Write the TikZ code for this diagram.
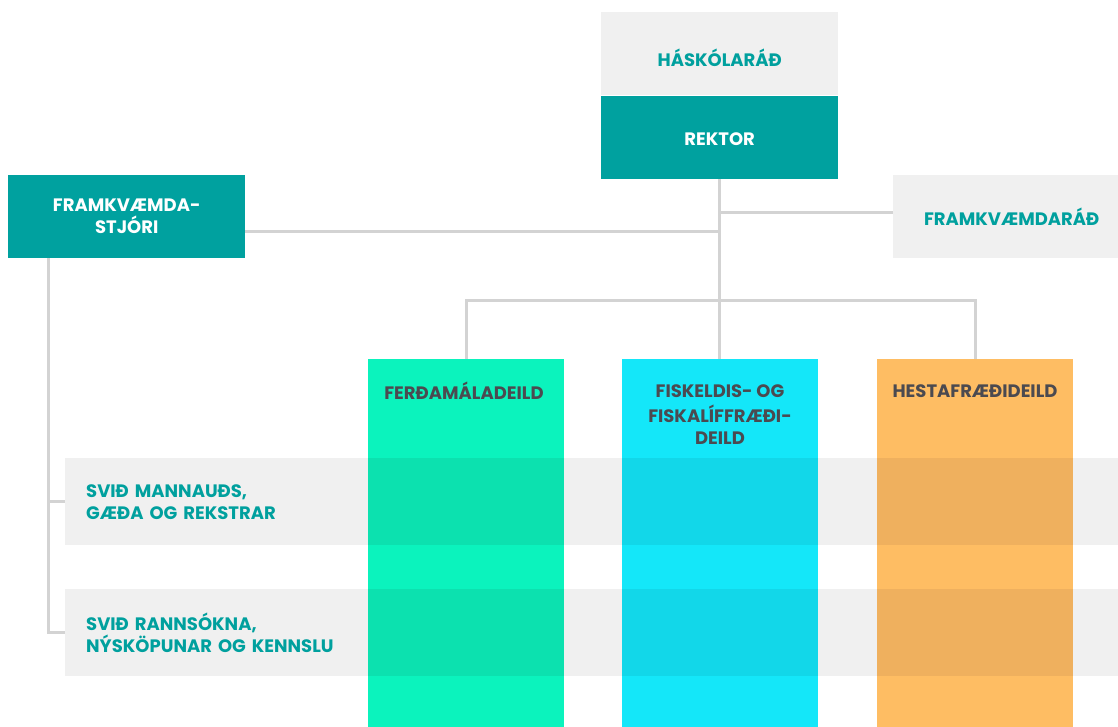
\documentclass[tikz,border=0pt]{standalone}
\usepackage{fontspec}
\setmainfont{Poppins}
\usetikzlibrary{positioning}
\definecolor{tealbox}{HTML}{00A19F}
\definecolor{tealtext}{HTML}{00A09E}
\definecolor{linegray}{HTML}{D3D3D3}
\definecolor{rowgray}{HTML}{F0F0F0}
\definecolor{textgray}{HTML}{4B4A50}
\definecolor{ferdagreen}{HTML}{0BF3BD}
\definecolor{ferdadark}{HTML}{0CE1AF}
\definecolor{fiskcyan}{HTML}{14E7F9}
\definecolor{fiskdark}{HTML}{12D7E9}
\definecolor{hestorange}{HTML}{FEBD63}
\definecolor{hestdark}{HTML}{EFB05E}

\begin{document}
\begin{tikzpicture}[x=1pt,y=-1pt,
    txt/.style={font=\bfseries\fontsize{18}{22}\selectfont},
    box/.style={txt,minimum width=237pt,minimum height=83pt,inner sep=0pt,align=center},
    lightbox/.style={box,fill=rowgray,text=tealtext},
    darkbox/.style={box,fill=tealbox,text=white},
    column/.style={minimum width=196pt,minimum height=370pt,inner sep=0pt,anchor=north},
    deild/.style={txt,text=textgray,align=center,inner sep=0pt,anchor=north},
    svid/.style={txt,fill=rowgray,text=tealtext,minimum height=87pt,text width=1040pt,
        inner xsep=21pt,inner ysep=0pt,align=left,anchor=north west},
    link/.style={draw=linegray,line width=3pt}]
    \useasboundingbox (0,0) rectangle (1118,727);

    \node[lightbox,anchor=north west,text height=26pt] (haskolarad) at (601,12) {HÁSKÓLARÁÐ};
    \node[darkbox,below=0pt of haskolarad,text height=17pt] (rektor) {REKTOR};
    \node[darkbox,anchor=north west] (framkv) at (8,175) {FRAMKVÆMDA-\\STJÓRI};
    \node[lightbox,anchor=north west] (framkvrad) at (893,175) {FRAMKVÆMDARÁÐ};

    \node[column,fill=ferdagreen] (ferda) at (466,359) {};
    \node[column,fill=fiskcyan] (fisk) at (720,359) {};
    \node[column,fill=hestorange] (hesta) at (975,359) {};

    \node[svid] (mannaud) at (65,458) {SVIÐ MANNAUÐS,\\GÆÐA OG REKSTRAR};
    \node[svid] (rannsokn) at (65,589) {SVIÐ RANNSÓKNA,\\NÝSKÖPUNAR OG KENNSLU};

    \foreach \c/\k in {ferda/ferdadark,fisk/fiskdark,hesta/hestdark}
        \foreach \r in {mannaud,rannsokn}
            \fill[\k] (\c.west |- \r.north) rectangle (\c.east |- \r.south);

    \node[deild] (ferdatxt) at ([xshift=-2pt,yshift=-23pt]ferda.north) {\strut FERÐAMÁLADEILD};
    \node[deild] (fisktxt) at ([yshift=-23pt]fisk.north) {\strut FISKELDIS- OG\\FISKALÍFFRÆÐI-\\DEILD};
    \node[deild] (hestatxt) at ([yshift=-23pt]hesta.north) {\strut HESTAFRÆÐIDEILD};

    \coordinate (bar) at (0,300);
    \coordinate (spine) at ([xshift=-78pt]framkv.south);
    \draw[link] (rektor.south) -- (rektor.south |- fisk.north);
    \draw[link] ([yshift=4pt]rektor.south |- framkvrad.west) -- ([yshift=4pt]framkvrad.west);
    \draw[link] ([yshift=-15pt]framkv.east) -- ([yshift=-15pt]framkv.east -| rektor.south);
    \draw[link] (ferda.north) -- (ferda.north |- bar) -- (hesta.north |- bar) -- (hesta.north);
    \draw[link] (spine) |- (rannsokn.west);
    \draw[link] (spine |- mannaud.west) -- (mannaud.west);
\end{tikzpicture}
\end{document}
